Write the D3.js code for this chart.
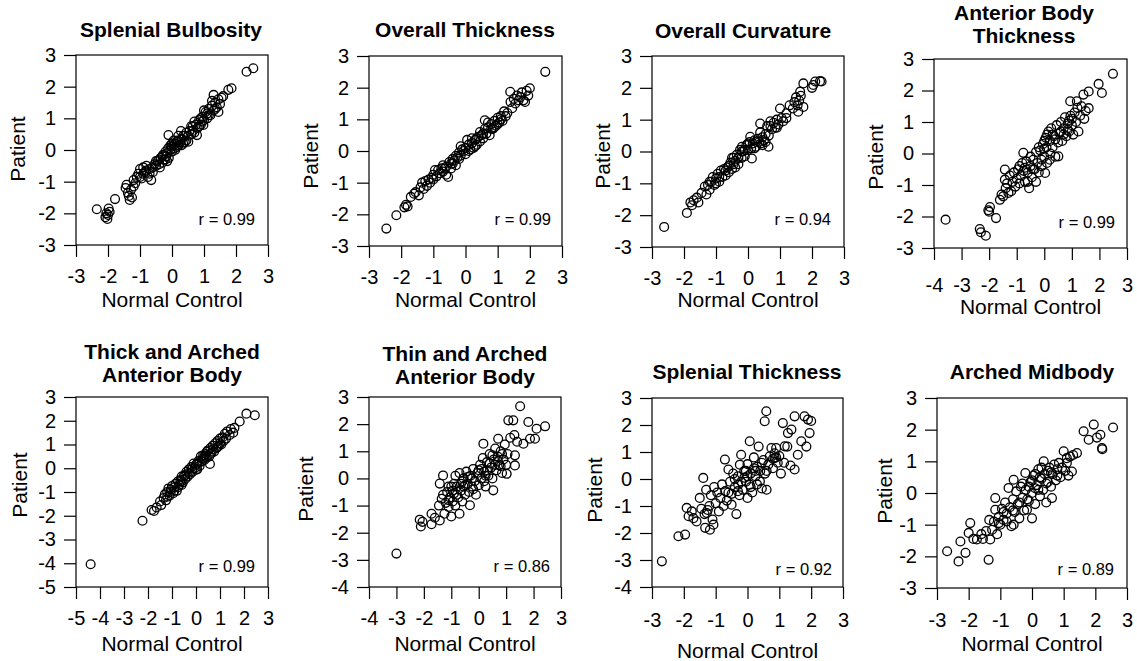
<!DOCTYPE html>
<html>
<head>
<meta charset="utf-8">
<script src="https://cdn.jsdelivr.net/npm/d3@7"></script>
<style>
  body { margin: 0; background: #fff; }
  svg { font-family: "Liberation Sans", Arial, sans-serif; }
</style>
</head>
<body>
<svg id="chart" width="1137" height="661"></svg>
<script>
// panel titles, one entry per line
const titles = [
  ["Splenial Bulbosity"], ["Overall Thickness"], ["Overall Curvature"], ["Anterior Body", "Thickness"],
  ["Thick and Arched", "Anterior Body"], ["Thin and Arched", "Anterior Body"], ["Splenial Thickness"], ["Arched Midbody"]
];
const rValues = ["0.99", "0.99", "0.94", "0.99", "0.99", "0.86", "0.92", "0.89"];

// axis ticks per panel
const xTicks = [
  [-3,-2,-1,0,1,2,3], [-3,-2,-1,0,1,2,3], [-3,-2,-1,0,1,2,3], [-4,-3,-2,-1,0,1,2,3],
  [-5,-4,-3,-2,-1,0,1,2,3], [-4,-3,-2,-1,0,1,2,3], [-3,-2,-1,0,1,2,3], [-3,-2,-1,0,1,2,3]
];
const yTicks = [
  [-3,-2,-1,0,1,2,3], [-3,-2,-1,0,1,2,3], [-3,-2,-1,0,1,2,3], [-3,-2,-1,0,1,2,3],
  [-5,-4,-3,-2,-1,0,1,2,3], [-4,-3,-2,-1,0,1,2,3], [-4,-3,-2,-1,0,1,2,3], [-3,-2,-1,0,1,2,3]
];

// [normal control, patient] pairs
const splenialBulbosity = [
  [-2.35,-1.87],[-2.05,-2.0],[-2.08,-2.12],[-2.02,-2.18],[-1.98,-1.85],[-2.0,-2.05],[-1.95,-1.95],[-1.78,-1.55],
  [-1.45,-1.2],[-1.42,-1.1],[-1.38,-1.35],[-1.32,-1.58],[-1.35,-1.45],[-1.25,-1.5],[-1.28,-1.25],[-1.2,-0.95],
  [-1.15,-1.05],[-1.1,-0.85],[-1.05,-0.75],[-1.0,-0.6],[-0.95,-0.9],[-0.9,-0.55],[-0.85,-0.7],[-0.8,-0.5],
  [-0.75,-0.85],[-0.7,-0.6],[-0.65,-0.95],[-0.6,-0.55],[-0.55,-0.45],[-0.5,-0.5],[-0.45,-0.35],[-0.4,-0.3],
  [-0.38,-0.55],[-0.35,-0.25],[-0.3,-0.4],[-0.28,-0.15],[-0.25,-0.3],[-0.2,-0.05],[-0.18,-0.2],[-0.15,-0.1],
  [-0.12,0.05],[-0.1,-0.25],[-0.11,0.47],[-0.05,0.0],[-0.02,0.1],[0.0,-0.05],[0.05,0.15],[0.08,0.05],
  [0.1,0.2],[0.15,0.1],[0.18,0.3],[0.2,0.15],[0.25,0.25],[0.28,0.6],[0.3,0.35],[0.35,0.2],[0.4,0.45],
  [0.45,0.3],[0.51,0.26],[0.5,0.45],[0.55,0.6],[0.6,0.5],[0.65,0.75],[0.7,0.55],[0.75,0.8],[0.78,0.47],
  [0.8,0.7],[0.85,0.95],[0.9,0.8],[0.95,1.05],[0.98,0.79],[1.0,0.95],[1.05,1.2],[1.1,1.0],[1.15,1.3],
  [1.2,1.1],[1.25,1.4],[1.3,1.25],[1.35,1.5],[1.3,1.74],[1.4,1.35],[1.45,1.6],[1.5,1.45],[1.55,1.65],
  [1.45,1.2],[1.6,1.7],[1.76,1.9],[1.86,1.95],[2.33,2.47],[2.54,2.58],
  [-0.6,-0.7],[-0.3,-0.2],[0.1,0.0],[0.3,0.15],[0.6,0.75],[0.9,1.0],[1.1,1.15],[-0.9,-0.75],[-1.2,-1.15],
  [0.2,0.45],[0.0,0.2],[-0.15,-0.35],[0.4,0.25],[0.7,0.9],[1.0,1.25],[1.25,1.55],
  [-0.5,-0.35],[-0.2,-0.3],[0.05,0.3],[0.35,0.45],[0.65,0.6],[0.85,0.75],[1.15,1.1],[-0.7,-0.75],[-1.0,-0.85],
  [-0.4,-0.45],[0.15,0.25],[0.45,0.55],[0.95,0.9],[1.35,1.3],[-0.05,0.15],[-0.8,-0.65]
];
const overallThickness = [
  [-2.46,-2.45],[-2.15,-2.03],[-1.9,-1.78],[-1.85,-1.7],[-1.8,-1.75],[-1.7,-1.45],[-1.6,-1.35],[-1.55,-1.3],
  [-1.45,-1.4],[-1.4,-1.15],[-1.35,-1.0],[-1.3,-1.2],[-1.25,-0.95],[-1.2,-1.1],[-1.15,-0.9],[-1.05,-0.85],
  [-1.0,-0.75],[-0.95,-0.6],[-0.9,-0.8],[-0.85,-0.6],[-0.8,-0.7],[-0.75,-0.55],[-0.7,-0.45],[-0.65,-0.55],
  [-0.6,-0.5],[-0.54,-0.82],[-0.5,-0.35],[-0.45,-0.4],[-0.4,-0.25],[-0.35,-0.3],[-0.3,-0.15],[-0.25,-0.2],
  [-0.2,-0.05],[-0.15,-0.15],[-0.1,0.05],[-0.05,0.0],[0.0,0.1],[0.0,-0.1],[0.05,0.35],[0.1,0.2],[0.15,0.05],
  [0.2,0.25],[0.25,0.1],[0.3,0.35],[0.35,0.2],[0.4,0.45],[0.45,0.3],[0.5,0.5],[0.55,0.4],[0.6,0.97],
  [0.6,0.7],[0.65,0.55],[0.7,0.75],[0.75,0.5],[0.8,0.85],[0.85,0.7],[0.9,0.95],[0.95,0.8],[1.0,1.05],
  [1.05,0.9],[1.1,1.1],[1.15,0.95],[1.2,1.25],[1.25,1.1],[1.39,1.87],[1.4,1.55],[1.45,1.35],[1.5,1.65],
  [1.55,1.5],[1.6,1.75],[1.65,1.6],[1.7,1.7],[1.75,1.85],[1.8,1.6],[1.85,1.55],[1.9,1.9],[1.95,1.75],
  [2.0,1.98],[2.48,2.5],
  [-0.3,-0.45],[0.2,0.4],[-0.6,-0.75],[0.45,0.6],[-1.1,-1.0],[0.9,0.75],[1.3,1.2],[-0.15,0.15],[0.3,0.15],
  [-0.45,-0.55],[0.7,0.9],[1.0,0.85],
  [-0.2,-0.25],[0.1,0.0],[-0.7,-0.65],[0.55,0.55],[-1.0,-0.9],[0.8,0.7],[-0.4,-0.4],[0.35,0.4],[1.1,1.0]
];
const overallCurvature = [
  [-2.62,-2.37],[-1.91,-1.93],[-1.8,-1.6],[-1.75,-1.69],[-1.7,-1.53],[-1.6,-1.45],[-1.55,-1.6],[-1.45,-1.3],
  [-1.35,-1.1],[-1.3,-1.35],[-1.25,-1.05],[-1.2,-1.2],[-1.15,-0.95],[-1.1,-0.8],[-1.05,-1.05],[-1.0,-0.85],
  [-0.95,-0.7],[-0.9,-0.95],[-0.85,-0.6],[-0.8,-0.8],[-0.75,-0.55],[-0.7,-0.75],[-0.65,-0.5],[-0.6,-0.65],
  [-0.55,-0.35],[-0.5,-0.55],[-0.45,-0.2],[-0.45,-0.4],[-0.4,-0.3],[-0.35,-0.1],[-0.3,-0.4],[-0.25,0.05],
  [-0.2,-0.2],[-0.19,0.15],[-0.15,0.0],[-0.1,-0.15],[-0.05,0.2],[0.0,0.05],[0.05,0.3],[0.07,0.46],[0.1,0.1],
  [0.12,-0.22],[0.15,0.25],[0.2,0.35],[0.25,0.15],[0.3,0.4],[0.35,0.3],[0.38,0.6],[0.4,0.25],[0.45,0.45],
  [0.38,0.88],[0.5,0.35],[0.55,0.55],[0.6,0.8],[0.64,0.15],[0.65,0.5],[0.7,0.95],[0.75,0.7],[0.8,0.9],
  [0.85,0.75],[0.9,1.0],[0.95,0.85],[1.0,1.35],[1.05,1.05],[1.1,0.95],[1.2,1.2],[1.3,1.45],[1.4,1.35],
  [1.45,1.55],[1.5,1.7],[1.55,1.45],[1.57,1.25],[1.6,1.6],[1.63,1.88],[1.65,1.75],[1.73,1.4],[1.73,2.14],
  [2.0,2.0],[2.04,2.09],[2.1,2.2],[2.25,2.21],[2.3,2.2],
  [-0.5,-0.2],[0.2,0.1],[-1.2,-0.95],[0.0,0.25],[-0.6,-0.45],[0.55,0.3],[-0.3,-0.2],[0.9,0.75],[1.2,1.05],
  [-0.9,-0.8],[-0.7,-0.6],[-0.4,-0.5],[-0.1,0.05],[0.25,0.3],[0.7,0.8],[-1.0,-1.0],[-0.2,0.0],[0.45,0.2]
];
const anteriorBodyThickness = [
  [-3.58,-2.1],[-2.34,-2.4],[-2.3,-2.5],[-2.12,-2.61],[-2.03,-1.8],[-1.97,-1.7],[-2.0,-1.85],[-1.75,-2.05],
  [-1.61,-1.47],[-1.55,-1.3],[-1.49,-1.36],[-1.43,-0.51],[-1.43,-0.83],[-1.4,-1.1],[-1.35,-0.95],[-1.3,-1.25],
  [-1.25,-0.7],[-1.2,-1.2],[-1.15,-0.9],[-1.1,-0.6],[-1.05,-1.05],[-1.0,-0.8],[-0.95,-0.5],[-0.9,-0.95],
  [-0.85,-0.7],[-0.8,-0.3],[-0.76,0.02],[-0.75,-0.55],[-0.7,-0.9],[-0.65,-0.25],[-0.6,-0.6],[-0.55,-1.1],
  [-0.5,-0.4],[-0.45,-0.75],[-0.4,-0.2],[-0.35,-0.5],[-0.3,0.05],[-0.3,-0.9],[-0.25,-0.3],[-0.2,-0.6],
  [-0.15,0.1],[-0.1,-0.4],[-0.05,0.3],[0.0,-0.1],[0.03,-0.62],[0.05,0.5],[0.08,0.2],[0.1,-0.3],[0.15,0.7],
  [0.2,0.4],[0.22,0.0],[0.25,0.8],[0.3,0.2],[0.35,0.55],[0.4,-0.1],[0.45,0.9],[0.5,0.35],[0.51,-0.09],
  [0.55,0.65],[0.6,1.0],[0.65,0.4],[0.7,0.8],[0.75,1.15],[0.8,0.55],[0.85,0.95],[0.9,0.7],[0.94,1.66],
  [0.95,1.2],[1.0,0.9],[1.05,0.6],[1.1,1.3],[1.15,1.0],[1.18,1.66],[1.24,0.7],[1.3,1.2],[1.35,1.5],
  [1.42,1.87],[1.45,1.1],[1.5,1.35],[1.61,1.44],[1.61,1.97],[1.97,2.21],[2.09,1.92],[2.49,2.53],
  [-0.2,0.2],[0.0,0.4],[0.3,0.6],[-0.5,-0.1],[-0.9,-0.4],[0.6,0.7],[0.2,-0.2],[-0.6,-0.9],[0.9,1.05],[1.2,1.45],
  [0.0,0.15],[0.1,0.6],[-0.1,-0.2],[0.4,0.45],[0.7,0.6],[-0.4,-0.5],[0.85,0.75],[1.0,1.1],[-0.7,-0.45]
];
const thickArchedAnterior = [
  [-4.39,-4.04],[-2.23,-2.21],[-1.85,-1.76],[-1.75,-1.8],[-1.64,-1.65],[-1.5,-1.4],[-1.45,-1.55],[-1.35,-1.25],
  [-1.3,-1.1],[-1.25,-1.35],[-1.2,-1.0],[-1.15,-0.85],[-1.1,-1.15],[-1.05,-0.9],[-1.0,-0.75],[-0.95,-1.05],
  [-0.9,-0.8],[-0.85,-0.65],[-0.8,-0.95],[-0.75,-0.55],[-0.7,-0.7],[-0.65,-0.5],[-0.6,-0.35],[-0.55,-0.6],
  [-0.5,-0.3],[-0.45,-0.45],[-0.4,-0.15],[-0.35,-0.35],[-0.3,-0.05],[-0.25,-0.25],[-0.2,0.05],[-0.15,-0.15],
  [-0.1,0.2],[-0.05,0.0],[0.0,0.15],[0.05,-0.05],[0.1,0.3],[0.15,0.1],[0.2,0.5],[0.25,0.3],[0.3,0.55],
  [0.35,0.35],[0.4,0.6],[0.45,0.45],[0.5,0.75],[0.55,0.5],[0.58,0.18],[0.6,0.85],[0.65,0.65],[0.7,0.95],
  [0.75,0.7],[0.8,1.05],[0.85,0.85],[0.9,1.15],[0.95,0.95],[1.0,1.25],[1.05,1.0],[1.1,1.3],[1.15,1.15],
  [1.2,1.45],[1.25,1.25],[1.3,1.55],[1.4,1.4],[1.45,1.65],[1.55,1.5],[1.6,1.7],[1.82,1.97],[2.1,2.3],[2.45,2.23],
  [-0.9,-0.95],[-0.6,-0.55],[-0.3,-0.2],[0.0,-0.05],[0.3,0.4],[0.6,0.6],[0.9,0.9],[-1.2,-1.2],[0.45,0.7],[-0.75,-0.8],
  [-1.05,-1.0],[-0.45,-0.3],[-0.15,0.0],[0.15,0.25],[0.35,0.5],[0.7,0.8],[1.0,1.05],[-0.6,-0.7],[0.05,0.2]
];
const thinArchedAnterior = [
  [-3.0,-2.77],[-2.15,-1.52],[-2.11,-1.77],[-2.05,-1.6],[-1.72,-1.69],[-1.72,-1.3],[-1.6,-1.45],[-1.42,-1.55],
  [-1.45,-1.0],[-1.42,-0.19],[-1.35,-0.75],[-1.3,0.11],[-1.3,-0.6],[-1.25,-1.3],[-1.2,-0.9],[-1.15,-0.5],
  [-1.1,-1.05],[-1.05,-0.7],[-1.0,-0.3],[-1.0,-1.4],[-0.95,-0.85],[-0.9,-0.55],[-0.85,-1.0],[-0.85,0.1],
  [-0.8,-0.3],[-0.75,-0.7],[-0.7,-1.3],[-0.7,0.2],[-0.65,-0.45],[-0.6,-0.85],[-0.55,0.0],[-0.55,-0.3],
  [-0.5,-0.6],[-0.45,0.25],[-0.4,-0.2],[-0.35,-0.5],[-0.32,-0.99],[-0.3,0.1],[-0.25,-0.3],[-0.2,0.35],
  [-0.15,-0.1],[-0.1,-0.6],[-0.05,0.2],[0.0,-0.25],[0.05,0.5],[0.1,0.0],[0.15,0.75],[0.17,1.28],[0.2,0.25],
  [0.25,-0.3],[0.3,0.6],[0.35,0.1],[0.4,0.9],[0.45,0.4],[0.5,0.0],[0.53,-0.44],[0.55,0.7],[0.6,1.1],
  [0.65,0.3],[0.7,0.8],[0.71,1.46],[0.75,0.5],[0.8,1.0],[0.85,0.2],[0.9,0.7],[0.95,1.25],[1.0,0.5],
  [1.02,0.17],[1.05,0.9],[1.08,2.14],[1.15,1.5],[1.26,2.14],[1.3,1.6],[1.32,0.85],[1.32,0.48],[1.4,1.35],
  [1.51,2.66],[1.63,1.28],[1.81,2.08],[1.87,1.46],[2.05,1.46],[2.11,1.83],[2.42,1.92],
  [-0.9,-0.2],[-0.6,-0.1],[0.0,0.3],[0.3,0.3],[-0.2,-0.4],[0.6,0.5],[0.85,0.9],[-1.1,-0.3],[0.2,-0.1],[-0.4,0.05],
  [-1.1,-0.8],[-0.8,-0.6],[-0.5,-0.25],[-0.25,0.0],[0.1,0.35],[0.4,0.55],[0.7,0.65],[-0.95,-0.45],[0.25,0.1],
  [-0.65,-0.2],[0.5,0.85],[0.8,0.45]
];
const splenialThickness = [
  [-2.69,-3.05],[-2.17,-2.12],[-1.96,-2.06],[-1.91,-1.07],[-1.85,-1.38],[-1.75,-1.2],[-1.7,-1.45],[-1.6,-1.57],
  [-1.5,-0.7],[-1.45,-1.1],[-1.39,0.04],[-1.35,-1.3],[-1.33,-1.81],[-1.3,-0.4],[-1.28,-1.26],[-1.2,-1.0],
  [-1.18,-1.88],[-1.15,-0.6],[-1.1,-1.5],[-1.07,-1.69],[-1.05,-0.3],[-1.0,-0.9],[-0.95,-0.5],[-0.9,-1.2],
  [-0.85,-0.7],[-0.8,-0.2],[-0.75,-1.0],[-0.71,0.72],[-0.7,-0.45],[-0.65,-0.8],[-0.6,0.35],[-0.55,-0.1],
  [-0.5,-0.95],[-0.5,-0.55],[-0.45,0.2],[-0.4,-0.3],[-0.35,-1.3],[-0.3,0.1],[-0.29,-0.21],[-0.25,-0.6],
  [-0.24,0.53],[-0.2,0.9],[-0.15,-0.4],[-0.1,0.3],[-0.05,-0.1],[0.0,0.55],[0.0,-0.7],[0.07,1.4],[0.07,-0.21],
  [0.1,0.2],[0.15,-0.5],[0.2,0.8],[0.25,0.1],[0.3,0.45],[0.35,1.2],[0.39,-0.09],[0.4,0.3],[0.45,-0.35],
  [0.5,0.7],[0.54,2.14],[0.55,0.2],[0.59,2.51],[0.6,-0.4],[0.65,0.53],[0.7,0.84],[0.75,1.15],[0.8,0.4],
  [0.85,0.78],[0.9,1.15],[0.95,0.6],[1.0,0.85],[1.05,0.2],[1.11,2.07],[1.15,0.6],[1.17,1.21],[1.25,1.2],
  [1.27,1.7],[1.35,0.5],[1.38,1.83],[1.48,2.32],[1.48,0.35],[1.58,0.9],[1.69,1.4],[1.79,2.32],[1.9,2.2],
  [1.95,1.7],[1.85,1.2],[2.0,2.15],
  [-0.4,0.0],[0.2,0.4],[0.3,-0.2],[-0.1,0.05],[0.6,0.3],[-0.6,-0.5],[0.9,0.8],[-0.2,-0.1],[0.1,-0.3],[0.45,0.6],
  [-1.25,-1.15],[-0.3,-0.45],[0.0,0.1],[0.25,0.3],[0.8,0.75],[0.85,0.95],[-0.05,0.3]
];
const archedMidbody = [
  [-2.68,-1.84],[-2.32,-2.16],[-2.26,-1.53],[-2.1,-1.89],[-2.0,-1.26],[-1.95,-0.95],[-1.85,-1.45],[-1.74,-1.47],
  [-1.6,-1.3],[-1.55,-1.45],[-1.45,-1.2],[-1.37,-2.11],[-1.35,-0.85],[-1.32,-1.47],[-1.26,-1.16],[-1.2,-0.9],
  [-1.16,-0.16],[-1.16,-0.53],[-1.1,-1.3],[-1.05,-0.75],[-1.0,-1.0],[-0.95,-0.5],[-0.9,-0.85],[-0.85,-0.3],
  [-0.8,-0.65],[-0.74,0.16],[-0.7,-0.45],[-0.65,-1.05],[-0.6,-0.2],[-0.58,0.42],[-0.58,-1.0],[-0.55,-0.6],
  [-0.5,0.05],[-0.45,-0.35],[-0.4,-0.8],[-0.35,0.2],[-0.3,-0.15],[-0.25,-0.55],[-0.21,0.63],[-0.2,0.1],
  [-0.16,-0.53],[-0.1,-0.25],[-0.05,0.35],[0.0,0.0],[0.0,-0.8],[0.05,0.55],[0.1,-0.35],[0.15,0.25],[0.2,0.75],
  [0.25,-0.1],[0.3,0.45],[0.35,0.1],[0.37,1.0],[0.4,0.6],[0.45,-0.3],[0.5,0.35],[0.55,0.8],[0.6,0.2],
  [0.63,-0.16],[0.65,0.6],[0.7,0.9],[0.75,0.4],[0.8,0.75],[0.85,0.95],[0.9,0.5],[0.95,0.8],[1.0,1.32],
  [1.05,0.7],[1.1,0.95],[1.15,0.55],[1.2,1.15],[1.26,0.68],[1.3,1.2],[1.42,1.26],[1.63,1.95],[1.79,1.68],
  [1.95,2.16],[2.05,1.75],[2.16,1.84],[2.21,1.42],[2.22,1.38],[2.56,2.07],
  [-0.3,0.3],[0.1,0.6],[0.2,0.1],[-0.6,-0.55],[0.5,0.7],[-0.1,0.2],[0.8,0.55],[-0.9,-0.6],[0.3,0.8],[0.0,0.4],
  [-1.05,-0.95],[-0.8,-0.9],[-0.4,-0.3],[0.1,0.15],[0.25,0.5],[0.45,0.3],[0.6,0.65],[-0.15,-0.2],[1.1,1.1]
];
const pointSets = [splenialBulbosity, overallThickness, overallCurvature, anteriorBodyThickness,
  thickArchedAnterior, thinArchedAnterior, splenialThickness, archedMidbody];

// layout of each panel box and its labels (pixels)
const panelLayout = [
  {x: 76,  y: 55,  w: 192, h: 190, titleX: 171,  titleY: 37,  xPad: 12, xLabY: 307, yLabX: 25,  yLabY: 149, rX: 255,  rY: 225},
  {x: 369, y: 56,  w: 193, h: 190, titleX: 465,  titleY: 37,  xPad: 12, xLabY: 307, yLabX: 318, yLabY: 156, rX: 551,  rY: 225},
  {x: 652, y: 56,  w: 192, h: 191, titleX: 743,  titleY: 38,  xPad: 12, xLabY: 307, yLabX: 610, yLabY: 156, rX: 831,  rY: 225},
  {x: 934, y: 59,  w: 193, h: 189, titleX: 1024, titleY: 43,  xPad: 18, xLabY: 314, yLabX: 883, yLabY: 157, rX: 1115, rY: 228},
  {x: 76,  y: 397, w: 192, h: 190, titleX: 172,  titleY: 382, xPad: 12, xLabY: 651, yLabX: 27,  yLabY: 485, rX: 255,  rY: 572},
  {x: 369, y: 397, w: 192, h: 190, titleX: 465,  titleY: 384, xPad: 12, xLabY: 651, yLabX: 313, yLabY: 489, rX: 550,  rY: 572},
  {x: 652, y: 398, w: 191, h: 189, titleX: 747,  titleY: 379, xPad: 14, xLabY: 658, yLabX: 602, yLabY: 490, rX: 832,  rY: 575},
  {x: 937, y: 398, w: 190, h: 190, titleX: 1032, titleY: 379, xPad: 13, xLabY: 651, yLabX: 892, yLabY: 491, rX: 1114, rY: 575}
];

const svg = d3.select("#chart");
svg.append("rect").attr("width", 1137).attr("height", 661).attr("fill", "#fff");

titles.forEach((title, i) => {
  const L = panelLayout[i];
  const xt = xTicks[i], yt = yTicks[i];
  const x = d3.scaleLinear().domain([xt[0], xt[xt.length - 1]]).range([L.x, L.x + L.w]);
  const y = d3.scaleLinear().domain([yt[0], yt[yt.length - 1]]).range([L.y + L.h, L.y]);
  const g = svg.append("g");

  // axes with outward ticks
  const xAxis = d3.axisBottom(x).tickValues(xt).tickSize(12).tickSizeOuter(0)
    .tickPadding(L.xPad).tickFormat(d => String(d));
  const yAxis = d3.axisLeft(y).tickValues(yt).tickSize(12).tickSizeOuter(0)
    .tickPadding(8).tickFormat(d => String(d));

  g.append("g")
    .attr("transform", `translate(0,${L.y + L.h})`)
    .call(xAxis)
    .call(a => a.select(".domain").remove())
    .attr("font-size", 20).attr("font-family", null);
  g.append("g")
    .attr("transform", `translate(${L.x},0)`)
    .call(yAxis)
    .call(a => a.select(".domain").remove())
    .attr("font-size", 20).attr("font-family", null);
  g.selectAll(".tick line").attr("stroke-width", 1.2);
  g.selectAll(".tick text").attr("fill", "#000");

  // plot frame
  g.append("rect")
    .attr("x", L.x).attr("y", L.y).attr("width", L.w).attr("height", L.h)
    .attr("fill", "none").attr("stroke", "#000").attr("stroke-width", 1.2);

  // points
  g.selectAll("circle")
    .data(pointSets[i])
    .enter()
    .append("circle")
    .attr("cx", d => x(d[0]))
    .attr("cy", d => y(d[1]))
    .attr("r", 4.4)
    .attr("fill", "none")
    .attr("stroke", "#000")
    .attr("stroke-width", 1.3);

  // title
  const n = title.length;
  title.forEach((line, k) => {
    g.append("text")
      .attr("x", L.titleX)
      .attr("y", L.titleY - (n - 1 - k) * 23)
      .attr("text-anchor", "middle")
      .attr("font-size", 21)
      .attr("font-weight", "bold")
      .text(line);
  });

  // axis titles
  g.append("text")
    .attr("x", L.x + L.w / 2)
    .attr("y", L.xLabY)
    .attr("text-anchor", "middle")
    .attr("font-size", 21)
    .text("Normal Control");
  g.append("text")
    .attr("transform", `translate(${L.yLabX},${L.yLabY}) rotate(-90)`)
    .attr("text-anchor", "middle")
    .attr("font-size", 21)
    .text("Patient");

  // correlation
  g.append("text")
    .attr("x", L.rX)
    .attr("y", L.rY)
    .attr("text-anchor", "end")
    .attr("font-size", 16.5)
    .text("r = " + rValues[i]);
});
</script>
</body>
</html>
